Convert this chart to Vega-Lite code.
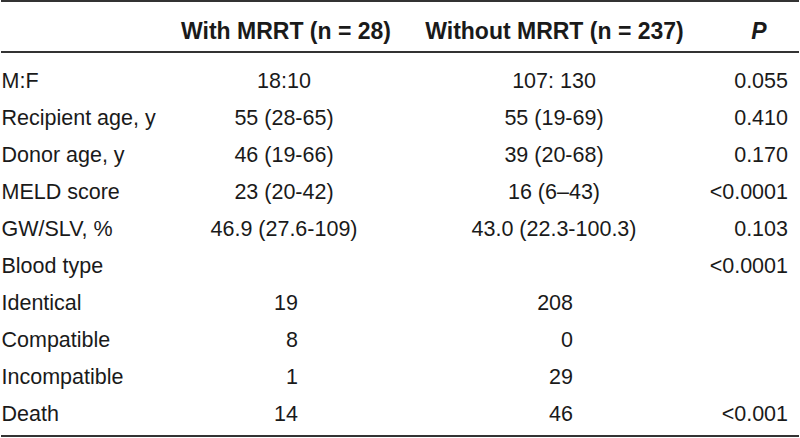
{
  "$schema": "https://vega.github.io/schema/vega-lite/v6.json",
  "width": 800,
  "height": 438,
  "padding": 0,
  "autosize": {"type": "fit", "contains": "padding"},
  "background": "white",
  "config": {"view": {"stroke": null}, "text": {"font": "Liberation Sans"}},
  "datasets": {
    "rows": [
      {"row": "M:F", "kind": "stat", "with": "18:10", "without": "107: 130", "p": "0.055"},
      {"row": "Recipient age, y", "kind": "stat", "with": "55 (28-65)", "without": "55 (19-69)", "p": "0.410"},
      {"row": "Donor age, y", "kind": "stat", "with": "46 (19-66)", "without": "39 (20-68)", "p": "0.170"},
      {"row": "MELD score", "kind": "stat", "with": "23 (20-42)", "without": "16 (6–43)", "p": "<0.0001"},
      {"row": "GW/SLV, %", "kind": "stat", "with": "46.9 (27.6-109)", "without": "43.0 (22.3-100.3)", "p": "0.103"},
      {"row": "Blood type", "kind": "stat", "with": "", "without": "", "p": "<0.0001"},
      {"row": "Identical", "kind": "count", "with": "19", "without": "208", "p": ""},
      {"row": "Compatible", "kind": "count", "with": "8", "without": "0", "p": ""},
      {"row": "Incompatible", "kind": "count", "with": "1", "without": "29", "p": ""},
      {"row": "Death", "kind": "count", "with": "14", "without": "46", "p": "<0.001"}
    ],
    "headers": [
      {"col": "with", "title": "With MRRT (n = 28)"},
      {"col": "without", "title": "Without MRRT (n = 237)"},
      {"col": "p", "title": "P"}
    ],
    "edges": [
      {"edge": "top"},
      {"edge": "bottom"}
    ],
    "headerEdge": [
      {"edge": "header"}
    ]
  },
  "resolve": {"scale": {"x": "independent", "y": "independent"}},
  "layer": [
    {
      "data": {"name": "edges"},
      "mark": {"type": "rule", "strokeWidth": 2, "color": "#333333"},
      "encoding": {
        "y": {"field": "edge", "type": "nominal", "scale": {"type": "point", "domain": ["top", "bottom"], "range": [1, 436], "padding": 0}, "axis": null}
      }
    },
    {
      "data": {"name": "headerEdge"},
      "mark": {"type": "rule", "strokeWidth": 2, "color": "#333333"},
      "encoding": {
        "y": {"field": "edge", "type": "nominal", "scale": {"type": "point", "domain": ["header"], "range": [52, 52], "padding": 0}, "axis": null}
      }
    },
    {
      "data": {"name": "headers"},
      "transform": [{"filter": "datum.col === 'with'"}],
      "mark": {"type": "text", "align": "center", "baseline": "middle", "fontWeight": "bold", "fontSize": 23, "color": "#1a1a1a"},
      "encoding": {
        "x": {"field": "col", "type": "nominal", "scale": {"type": "point", "domain": ["with"], "range": [285, 285], "padding": 0}, "axis": null},
        "y": {"field": "col", "type": "nominal", "scale": {"type": "point", "domain": ["with"], "range": [32, 32], "padding": 0}, "axis": null},
        "text": {"field": "title"}
      }
    },
    {
      "data": {"name": "headers"},
      "transform": [{"filter": "datum.col === 'without'"}],
      "mark": {"type": "text", "align": "center", "baseline": "middle", "fontWeight": "bold", "fontSize": 23, "color": "#1a1a1a"},
      "encoding": {
        "x": {"field": "col", "type": "nominal", "scale": {"type": "point", "domain": ["without"], "range": [553.5, 553.5], "padding": 0}, "axis": null},
        "y": {"field": "col", "type": "nominal", "scale": {"type": "point", "domain": ["without"], "range": [32, 32], "padding": 0}, "axis": null},
        "text": {"field": "title"}
      }
    },
    {
      "data": {"name": "headers"},
      "transform": [{"filter": "datum.col === 'p'"}],
      "mark": {"type": "text", "align": "center", "baseline": "middle", "fontWeight": "bold", "fontStyle": "italic", "fontSize": 23, "color": "#1a1a1a"},
      "encoding": {
        "x": {"field": "col", "type": "nominal", "scale": {"type": "point", "domain": ["p"], "range": [758, 758], "padding": 0}, "axis": null},
        "y": {"field": "col", "type": "nominal", "scale": {"type": "point", "domain": ["p"], "range": [32, 32], "padding": 0}, "axis": null},
        "text": {"field": "title"}
      }
    },
    {
      "data": {"name": "rows"},
      "mark": {"type": "text", "align": "left", "baseline": "middle", "fontSize": 21.5, "color": "#1a1a1a"},
      "encoding": {
        "x": {"datum": "label", "type": "nominal", "scale": {"type": "point", "domain": ["label"], "range": [0.5, 0.5], "padding": 0}, "axis": null},
        "y": {"field": "row", "type": "nominal", "sort": null, "scale": {"type": "point", "domain": ["M:F", "Recipient age, y", "Donor age, y", "MELD score", "GW/SLV, %", "Blood type", "Identical", "Compatible", "Incompatible", "Death"], "range": [81.5, 414.5], "padding": 0}, "axis": null},
        "text": {"field": "row"}
      }
    },
    {
      "data": {"name": "rows"},
      "transform": [{"filter": "datum.kind === 'stat'"}],
      "mark": {"type": "text", "align": "center", "baseline": "middle", "fontSize": 21.5, "color": "#1a1a1a"},
      "encoding": {
        "x": {"datum": "with", "type": "nominal", "scale": {"type": "point", "domain": ["with"], "range": [283, 283], "padding": 0}, "axis": null},
        "y": {"field": "row", "type": "nominal", "sort": null, "scale": {"type": "point", "domain": ["M:F", "Recipient age, y", "Donor age, y", "MELD score", "GW/SLV, %", "Blood type", "Identical", "Compatible", "Incompatible", "Death"], "range": [81.5, 414.5], "padding": 0}, "axis": null},
        "text": {"field": "with"}
      }
    },
    {
      "data": {"name": "rows"},
      "transform": [{"filter": "datum.kind === 'count'"}],
      "mark": {"type": "text", "align": "right", "baseline": "middle", "fontSize": 21.5, "color": "#1a1a1a"},
      "encoding": {
        "x": {"datum": "with", "type": "nominal", "scale": {"type": "point", "domain": ["with"], "range": [297, 297], "padding": 0}, "axis": null},
        "y": {"field": "row", "type": "nominal", "sort": null, "scale": {"type": "point", "domain": ["M:F", "Recipient age, y", "Donor age, y", "MELD score", "GW/SLV, %", "Blood type", "Identical", "Compatible", "Incompatible", "Death"], "range": [81.5, 414.5], "padding": 0}, "axis": null},
        "text": {"field": "with"}
      }
    },
    {
      "data": {"name": "rows"},
      "transform": [{"filter": "datum.kind === 'stat'"}],
      "mark": {"type": "text", "align": "center", "baseline": "middle", "fontSize": 21.5, "color": "#1a1a1a"},
      "encoding": {
        "x": {"datum": "without", "type": "nominal", "scale": {"type": "point", "domain": ["without"], "range": [553, 553], "padding": 0}, "axis": null},
        "y": {"field": "row", "type": "nominal", "sort": null, "scale": {"type": "point", "domain": ["M:F", "Recipient age, y", "Donor age, y", "MELD score", "GW/SLV, %", "Blood type", "Identical", "Compatible", "Incompatible", "Death"], "range": [81.5, 414.5], "padding": 0}, "axis": null},
        "text": {"field": "without"}
      }
    },
    {
      "data": {"name": "rows"},
      "transform": [{"filter": "datum.kind === 'count'"}],
      "mark": {"type": "text", "align": "right", "baseline": "middle", "fontSize": 21.5, "color": "#1a1a1a"},
      "encoding": {
        "x": {"datum": "without", "type": "nominal", "scale": {"type": "point", "domain": ["without"], "range": [572, 572], "padding": 0}, "axis": null},
        "y": {"field": "row", "type": "nominal", "sort": null, "scale": {"type": "point", "domain": ["M:F", "Recipient age, y", "Donor age, y", "MELD score", "GW/SLV, %", "Blood type", "Identical", "Compatible", "Incompatible", "Death"], "range": [81.5, 414.5], "padding": 0}, "axis": null},
        "text": {"field": "without"}
      }
    },
    {
      "data": {"name": "rows"},
      "mark": {"type": "text", "align": "right", "baseline": "middle", "fontSize": 21.5, "color": "#1a1a1a"},
      "encoding": {
        "x": {"datum": "p", "type": "nominal", "scale": {"type": "point", "domain": ["p"], "range": [787, 787], "padding": 0}, "axis": null},
        "y": {"field": "row", "type": "nominal", "sort": null, "scale": {"type": "point", "domain": ["M:F", "Recipient age, y", "Donor age, y", "MELD score", "GW/SLV, %", "Blood type", "Identical", "Compatible", "Incompatible", "Death"], "range": [81.5, 414.5], "padding": 0}, "axis": null},
        "text": {"field": "p"}
      }
    }
  ]
}
